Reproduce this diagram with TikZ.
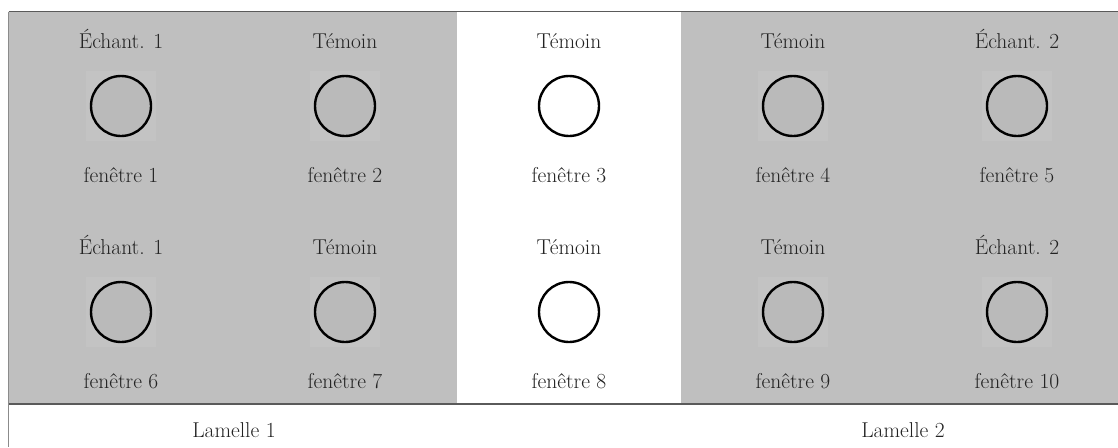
\documentclass[tikz,border=0pt]{standalone}
\usepackage{fontspec}
\definecolor{panelgray}{RGB}{191,191,191}
\definecolor{squaregray}{RGB}{195,195,195}
\definecolor{innergray}{RGB}{186,186,186}
\definecolor{framegray}{RGB}{90,90,90}
\definecolor{textgray}{RGB}{35,35,35}
\tikzset{
  lbl/.style={anchor=base, text=textgray, inner sep=0pt, font=\fontsize{21.5}{25}\selectfont},
  win/.style={circle, draw=black, line width=2.4pt, minimum size=60pt, inner sep=0pt},
  frame/.style={draw=framegray, line width=1.6pt},
}
\begin{document}
\begin{tikzpicture}[x=1pt,y=-1pt]
\fill[white] (0,0) rectangle (1118,447);
\useasboundingbox (0,0) rectangle (1118,447);
% gray panels
\fill[panelgray] (9,12) rectangle (457,404);
\fill[panelgray] (681,12) rectangle (1118,404);
% frame lines
\coordinate (tl) at (8.5,11.5);
\coordinate (tr) at (1118,11.5);
\coordinate (bl) at (8.5,404);
\coordinate (br) at (1118,404);
\coordinate (bb) at (8.5,447);
\draw[frame] (tl) -- (tr);
\draw[frame] (bl) -- (br);
\draw[draw=framegray!70, line width=1.4pt] (tl) -- (bb);
% windows
\foreach \row/\dy/\off in {0/0/0, 1/206/5} {
  \foreach \c/\top in {0/{Échant. 1}, 1/{Témoin}, 2/{Témoin}, 3/{Témoin}, 4/{Échant. 2}} {
    \pgfmathsetmacro{\cx}{121+224*\c}
    \pgfmathtruncatemacro{\num}{\c+1+\off}
    \pgfmathsetmacro{\cy}{106+\dy}
    \ifnum\c=2
      \node[win, fill=white] (w\num) at (\cx,\cy) {};
    \else
      \fill[squaregray] (\cx-35,\cy-35) rectangle (\cx+35,\cy+35);
      \node[win, fill=innergray] (w\num) at (\cx,\cy) {};
    \fi
    \node[lbl] (t\num) at (\cx,48+\dy) {\top};
    \node[lbl] (f\num) at (\cx,182+\dy) {fenêtre \num};
  }
}
\node[lbl] (lam1) at (234,437) {Lamelle 1};
\node[lbl] (lam2) at (903,437) {Lamelle 2};
\end{tikzpicture}
\end{document}
